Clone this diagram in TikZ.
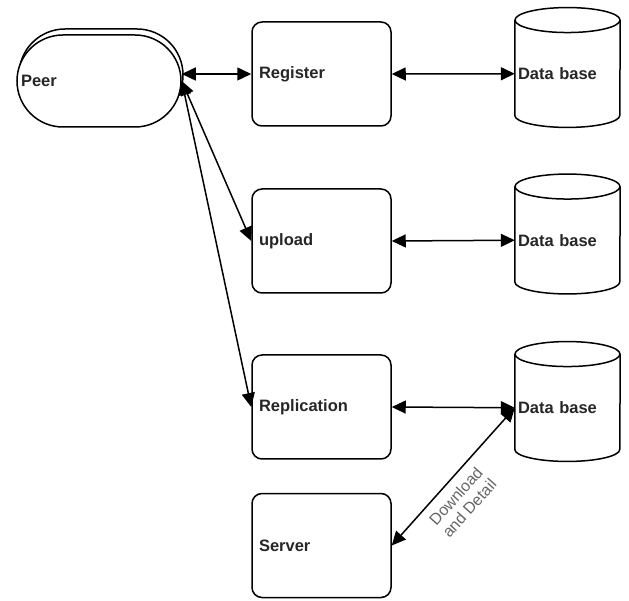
\documentclass[tikz,border=0pt]{standalone}
\usepackage{fontspec}
\setmainfont{Liberation Sans}
\usepackage{tikz}
\usetikzlibrary{arrows.meta, calc, positioning}

\tikzset{
  box/.style={draw, rounded corners=10pt, line width=1.5pt, minimum width=139pt,
    minimum height=104pt, text width=125pt, inner sep=7pt, align=left,
    font=\bfseries\fontsize{16.5}{19}\selectfont, text=black!85},
  peerbox/.style={draw, fill=white, rounded corners=46pt, line width=1.5pt,
    minimum width=164pt, minimum height=92pt, text width=156pt, inner sep=4pt,
    align=left, font=\bfseries\fontsize{16.5}{19}\selectfont, text=black!85},
  dbnode/.style={minimum width=105pt, minimum height=107pt, text width=99pt,
    inner sep=3pt, align=left, font=\bfseries\fontsize{16.5}{19}\selectfont, text=black!85},
  link/.style={line width=1.5pt, {Triangle[length=14pt,width=13pt]}-{Triangle[length=14pt,width=13pt]}},
}

\begin{document}
\begin{tikzpicture}[x=1pt, y=1pt]
  \useasboundingbox (0,0) rectangle (629,600);

  % peer (double outline)
  \node [peerbox] (peerbk) at (101,525) {};
  \node [peerbox] (peer) at (99,519) {Peer};

  % services
  \node [box] (reg) at (321.5,526) {Register};
  \node [box] (upl) at (321.5,359) {upload};
  \node [box] (rep) at (321.5,193) {Replication};
  \node [box] (srv) at (321.5,54.5) {Server};

  % data bases
  \node [dbnode] (db1) at (567.5,526.25) {Data base};
  \node [dbnode] (db2) at (567.5,359.75) {Data base};
  \node [dbnode] (db3) at (567.5,192.25) {Data base};
  \foreach \n in {db1,db2,db3} {
    \draw [line width=1.5pt] (\n.north west) -- ($(\n.south west)+(0,12)$)
      arc [start angle=180, end angle=360, x radius=52.5, y radius=12]
      -- (\n.north east);
    \draw [line width=1.5pt] (\n.north) ellipse [x radius=52.5, y radius=12.5];
  }

  % links
  \draw [link] (peer.east |- reg.west) -- (reg.west);
  \draw [link] (peer.east) -- (upl.west);
  \draw [link] (peer.east) -- (rep.west);
  \draw [link] (reg.east) -- (db1.west);
  \draw [link] (upl.east) -- (db2.west);
  \draw [link] (rep.east) -- (db3.west);
  \draw [link] (srv.east) -- node [pos=0.43, sloped, below=5pt, align=center, text=black!60,
    font=\fontsize{16}{18}\selectfont] {Download\\and Detail} (db3.west);
\end{tikzpicture}
\end{document}
